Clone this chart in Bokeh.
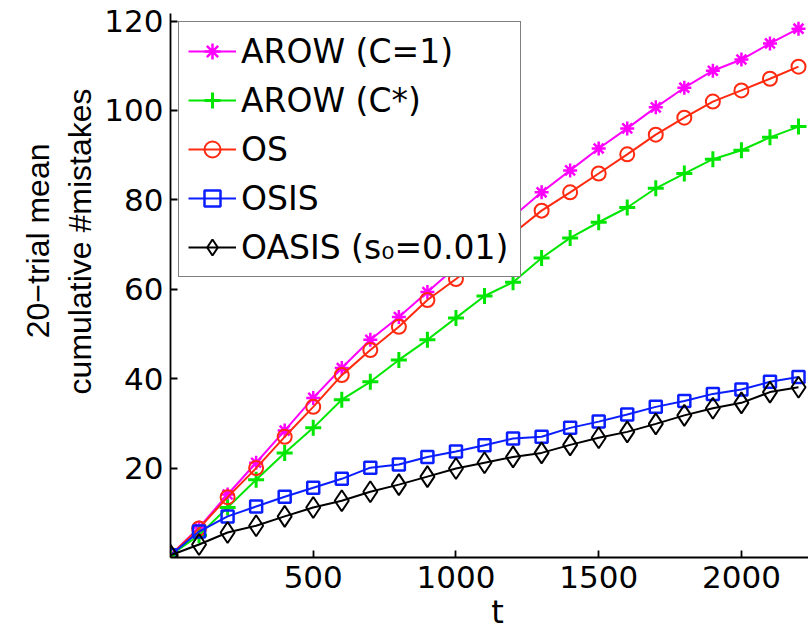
from bokeh.plotting import figure
from bokeh.embed import file_html
from bokeh.resources import INLINE
from bokeh.models import FixedTicker, Range1d, Title

# ---- data ----
t = [0, 100, 200, 300, 400, 500, 600, 700, 800, 900, 1000, 1100,
     1200, 1300, 1400, 1500, 1600, 1700, 1800, 1900, 2000, 2100, 2200]
arow_c1 = [0.5, 6.7, 14.1, 21.2, 28.4, 35.7, 42.4, 48.7, 53.8, 59.4, 65.0, 70.8,
           76.3, 81.7, 86.6, 91.5, 96.0, 100.7, 105.1, 108.9, 111.4, 115.0, 118.3]
arow_cstar = [0.5, 5.0, 11.2, 17.4, 23.4, 29.0, 35.3, 39.3, 44.2, 48.7, 53.6, 58.5,
              61.6, 67.0, 71.5, 75.0, 78.3, 82.6, 85.9, 89.1, 91.1, 94.0, 96.4]
os_ = [0.5, 6.5, 13.5, 20.0, 27.0, 33.7, 40.8, 46.4, 51.6, 57.6, 62.3, 67.2,
       72.5, 77.6, 81.7, 85.9, 90.2, 94.6, 98.4, 102.0, 104.5, 107.1, 109.8]
osis = [0.5, 5.8, 9.2, 11.4, 13.6, 15.6, 17.6, 20.1, 20.8, 22.5, 23.7, 25.1,
        26.6, 27.0, 29.0, 30.4, 32.0, 33.7, 35.0, 36.6, 37.6, 39.3, 40.4]
oasis = [0.5, 2.9, 5.6, 7.1, 9.2, 11.2, 12.7, 14.7, 16.3, 18.1, 19.9, 21.2,
         22.5, 23.4, 25.2, 26.8, 28.1, 29.9, 31.8, 33.4, 34.6, 37.0, 38.1]

labels = ["AROW (C=1)", "AROW (C*)", "OS", "OSIS", "OASIS (s\u2080=0.01)"]
x_ticks = [500, 1000, 1500, 2000]
y_ticks = [20, 40, 60, 80, 100, 120]
y_title_inner = "cumulative #mistakes"
y_title_outer = "20\u2212trial mean"

FONT = "DejaVu Sans"
YFONT = "Liberation Sans"

p = figure(width=808, height=633, output_backend="svg", toolbar_location=None,
           x_range=Range1d(0, 2235), y_range=Range1d(0, 121.7),
           min_border_left=170, min_border_right=0, min_border_top=13,
           min_border_bottom=76)
p.outline_line_color = None
p.xgrid.visible = False
p.ygrid.visible = False

series = [
    (arow_c1, "#ff00ff", "asterisk", 14, 2.5, 2.0),
    (arow_cstar, "#00e600", "cross", 16, 3.0, 2.0),
    (os_, "#ff2a10", "circle", 14, 2.0, 2.0),
    (osis, "#0a1eff", "square", 12, 2.5, 2.0),
    (oasis, "#000000", "diamond", 21, 2.0, 2.0),
]
for (vals, col, mk, sz, mlw, llw), lab in zip(series, labels):
    p.line(t, vals, line_color=col, line_width=llw, legend_label=lab)
    p.scatter(t, vals, marker=mk, size=sz, line_color=col, line_width=mlw,
              fill_color=None, legend_label=lab)

for ax in (p.xaxis[0], p.yaxis[0]):
    ax.axis_line_width = 1.8
    ax.axis_line_color = "#000000"
    ax.major_tick_in = 7
    ax.major_tick_out = 0
    ax.major_tick_line_width = 1.8
    ax.minor_tick_line_color = None
    ax.major_label_text_font = FONT
    ax.major_label_text_font_size = "31px"
    ax.major_label_text_color = "#000000"
    ax.axis_label_text_font_style = "normal"
    ax.axis_label_text_color = "#000000"

p.xaxis.ticker = FixedTicker(ticks=x_ticks)
p.yaxis.ticker = FixedTicker(ticks=y_ticks)
p.xaxis.major_label_standoff = 8
p.yaxis.major_label_standoff = 7
p.xaxis.axis_label = "\u2002t"
p.xaxis.axis_label_text_font = FONT
p.xaxis.axis_label_text_font_size = "32px"
p.xaxis.axis_label_standoff = 2

# two-line y title, placed as two left-side titles (inner first)
for txt, off, so in [(y_title_inner, 75, 8), (y_title_outer, 130, 0)]:
    p.add_layout(Title(text=txt, align="right", offset=off, standoff=so,
                       vertical_align="bottom", text_font=YFONT,
                       text_font_size="32px", text_font_style="normal",
                       text_color="#000000"), "left")

lg = p.legend[0]
lg.location = "top_left"
lg.margin = 8
lg.padding = 9
lg.spacing = 9
lg.glyph_width = 48
lg.glyph_height = 40
lg.label_height = 40
lg.label_width = 270
lg.label_standoff = 5
lg.label_text_font = FONT
lg.label_text_font_size = "33px"
lg.label_text_color = "#000000"
lg.border_line_color = "#000000"
lg.border_line_width = 1.5
lg.background_fill_alpha = 1.0

open("out.html", "w").write(file_html(p, INLINE))
